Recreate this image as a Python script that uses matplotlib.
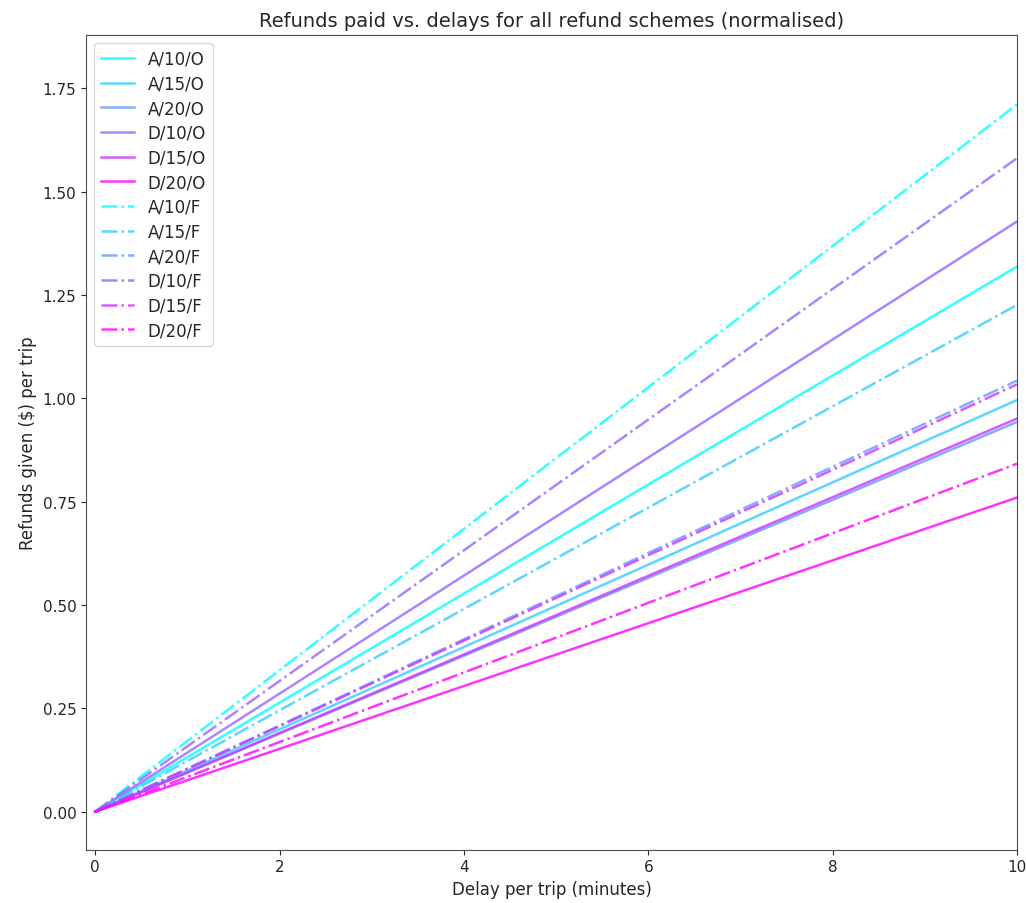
import matplotlib
matplotlib.use('Agg')
import matplotlib.pyplot as plt
import numpy as np

# Opóźnienie na przejazd (minuty) - początek i koniec odcinka
delays = [0, 10]

# Zwroty przy maksymalnym opóźnieniu
schemes = ['A/10/O', 'A/15/O', 'A/20/O', 'D/10/O', 'D/15/O', 'D/20/O',
           'A/10/F', 'A/15/F', 'A/20/F', 'D/10/F', 'D/15/F', 'D/20/F']
refunds_o = [
    [0.0, 1.319],  # A/10/O
    [0.0, 0.996],  # A/15/O
    [0.0, 0.943],  # A/20/O
    [0.0, 1.428],  # D/10/O
    [0.0, 0.951],  # D/15/O
    [0.0, 0.760],  # D/20/O
]
refunds_f = [
    [0.0, 1.711],  # A/10/F
    [0.0, 1.226],  # A/15/F
    [0.0, 1.043],  # A/20/F
    [0.0, 1.581],  # D/10/F
    [0.0, 1.034],  # D/15/F
    [0.0, 0.842],  # D/20/F
]

plt.rcParams['text.color'] = '.15'
plt.rcParams['axes.labelcolor'] = '.15'
plt.rcParams['xtick.color'] = '.15'
plt.rcParams['ytick.color'] = '.15'
plt.rcParams['axes.edgecolor'] = '.3'

colors = plt.cm.cool(np.linspace(0, 1, 6))

fig = plt.figure(figsize=(10.26, 9.04), dpi=100)
ax = fig.add_axes([0.0838, 0.0590, 0.9074, 0.9015])

for i, vals in enumerate(refunds_o):
    ax.plot(delays, vals, '-', color=colors[i], alpha=0.8, lw=1.8, label=schemes[i])
for i, vals in enumerate(refunds_f):
    ax.plot(delays, vals, '-.', color=colors[i], alpha=0.8, lw=1.8, label=schemes[6 + i])

ax.set_xlim(-0.1, 10)
ax.set_ylim(-0.092, 1.88)
ax.set_xticks([0, 2, 4, 6, 8, 10])
ax.set_yticks([0, 0.25, 0.5, 0.75, 1.0, 1.25, 1.5, 1.75])
ax.tick_params(labelsize=11)
ax.set_xlabel('Delay per trip (minutes)', fontsize=12)
ax.set_ylabel('Refunds given ($) per trip', fontsize=12)
ax.set_title('Refunds paid vs. delays for all refund schemes (normalised)', fontsize=14)
ax.legend(loc='upper left', fontsize=12, labelspacing=0.4)

plt.savefig('out.png')
